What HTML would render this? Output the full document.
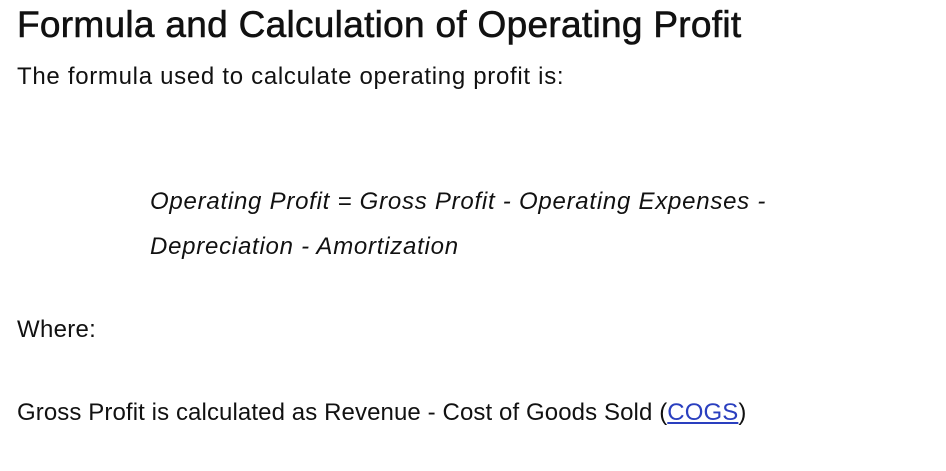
<!DOCTYPE html>
<html>
<head>
<meta charset="utf-8">
<style>
  html,body{margin:0;padding:0;background:#fff;}
  body{width:946px;height:471px;position:relative;overflow:hidden;font-family:"Liberation Sans",sans-serif;color:#111;}
  .ln{position:absolute;white-space:nowrap;line-height:1;}
  h1{position:absolute;left:17px;top:6px;margin:0;font-size:37px;font-weight:normal;letter-spacing:0.3px;line-height:1;white-space:nowrap;color:#111;-webkit-text-stroke:0.6px #111;}
  .body{font-size:24px;}
  .formula{font-size:24px;font-style:italic;letter-spacing:0.75px;}
  a{color:#2a3fbf;text-decoration:underline;}
</style>
</head>
<body>
  <h1>Formula and Calculation of Operating Profit</h1>
  <div class="ln body" style="left:17px;top:65px;letter-spacing:0.7px;">The formula used to calculate operating profit is:</div>
  <div class="ln formula" style="left:150px;top:190px;">Operating Profit = Gross Profit - Operating Expenses -</div>
  <div class="ln formula" style="left:150px;top:235px;">Depreciation - Amortization</div>
  <div class="ln body" style="left:17px;top:318px;letter-spacing:0.3px;">Where:</div>
  <div class="ln body" style="left:17px;top:401px;letter-spacing:0.1px;">Gross Profit is calculated as Revenue - Cost of Goods Sold (<a href="#">COGS</a>)</div>
</body>
</html>
